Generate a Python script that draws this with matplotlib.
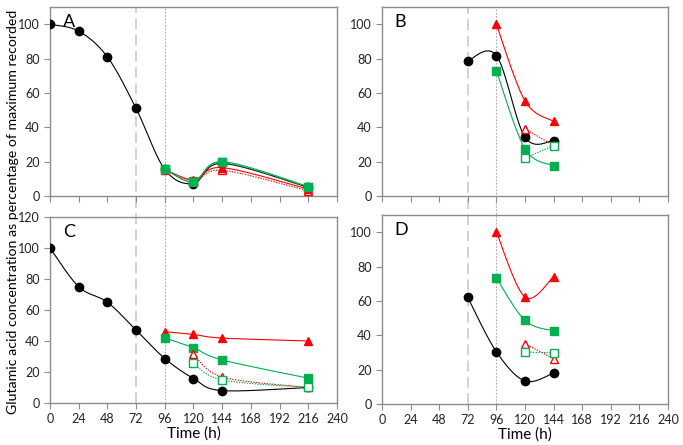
#!/usr/bin/env python3

import numpy as np
import matplotlib.pyplot as plt
from matplotlib.lines import Line2D
from matplotlib.transforms import blended_transform_factory

plt.rcParams["font.family"] = ["Lato", "DejaVu Sans"]

RED = "#FF0000"
GREEN = "#00B050"
SPINE = "#8C8C8C"

# Panel A
A_BLACK_T = [0, 24, 48, 72, 96, 120, 144, 216]
A_BLACK = [100, 96, 81, 51, 15.5, 7.2, 19, 5]
A_T = [96, 120, 144, 216]
A_GREEN = [16, 8, 20, 5.5]
A_GREEN_OPEN = [15.5, 8.5, 19.5, 5]
A_RED = [15.5, 9.5, 16.5, 4]
A_RED_OPEN = [15, 9, 15, 3]

# Panel B
B_BLACK_T = [72, 96, 120, 144]
B_BLACK = [78.7, 81.8, 34.3, 32.2]
B_T = [96, 120, 144]
B_GREEN = [72.9, 27.5, 17.6]
B_RED = [100, 55.4, 43.4]
B_OPEN_T = [120, 144]
B_GREEN_OPEN = [22.1, 29.3]
B_RED_OPEN = [39, 29.5]

# Panel C
C_BLACK_T = [0, 24, 48, 72, 96, 120, 144, 216]
C_BLACK = [100, 75, 65, 47, 28.7, 15.8, 8, 10]
C_T = [96, 120, 144, 216]
C_GREEN = [42, 35.6, 27.8, 16]
C_RED = [46, 44.2, 41.9, 40]
C_OPEN_T = [120, 144, 216]
C_GREEN_OPEN = [25.7, 14.9, 10]
C_RED_OPEN = [31.7, 16.8, 10]

# Panel D
D_BLACK_T = [72, 96, 120, 144]
D_BLACK = [62, 30.4, 13.4, 18]
D_T = [96, 120, 144]
D_GREEN = [73.3, 48.6, 42.6]
D_RED = [100, 62.2, 74]
D_OPEN_T = [120, 144]
D_GREEN_OPEN = [30.2, 29.8]
D_RED_OPEN = [35.1, 26.4]

X_TICKS = np.arange(0, 241, 24)


def smooth(x, y, n=30):
    # Excel-like smoothed line: cubic Bezier with Catmull-Rom control points
    p = np.column_stack([x, y]).astype(float)
    if len(p) < 3:
        return p[:, 0], p[:, 1]
    pts = []
    for i in range(len(p) - 1):
        p0 = p[i - 1] if i > 0 else p[i]
        p3 = p[i + 2] if i + 2 < len(p) else p[i + 1]
        c1 = p[i] + (p[i + 1] - p0) / 6
        c2 = p[i + 1] - (p3 - p[i]) / 6
        t = np.linspace(0, 1, n)[:, None]
        seg = ((1 - t) ** 3 * p[i] + 3 * (1 - t) ** 2 * t * c1
               + 3 * (1 - t) * t ** 2 * c2 + t ** 3 * p[i + 1])
        pts.append(seg if i == 0 else seg[1:])
    pts = np.vstack(pts)
    return pts[:, 0], pts[:, 1]


def series(ax, x, y, color, marker, filled=True, ms=6):
    sx, sy = smooth(x, y)
    ls = "-" if filled else (0, (1.2, 1.2))
    ax.plot(sx, sy, color=color, linewidth=0.8, linestyle=ls, zorder=3)
    ax.plot(x, y, linestyle="none", marker=marker, markersize=ms,
            markerfacecolor=color if filled else "white",
            markeredgecolor=color, markeredgewidth=1.0, zorder=4)


def style(ax, ymax, yticks, letter, show_x):
    ax.set_facecolor("none")
    ax.set_xlim(0, 240)
    ax.set_ylim(0, ymax)
    ax.set_xticks(X_TICKS)
    ax.set_yticks(yticks)
    for s in ax.spines.values():
        s.set_color(SPINE)
        s.set_linewidth(1.0)
    ax.tick_params(direction="out", length=4, color=SPINE,
                   labelsize=9, labelcolor="#222222")
    if show_x:
        ax.set_xlabel("Time (h)", fontsize=11, labelpad=1)
    else:
        ax.tick_params(axis="x", labelbottom=False)
    ax.text(0.045, 0.92, letter, transform=ax.transAxes, fontsize=13,
            va="center", ha="left")


def main():
    fig = plt.figure(figsize=(6.83, 4.45), dpi=100)
    ax_a = fig.add_axes([0.0732, 0.5596, 0.4202, 0.4244])
    ax_b = fig.add_axes([0.5593, 0.5596, 0.4187, 0.4244])
    ax_c = fig.add_axes([0.0732, 0.0944, 0.4202, 0.4180])
    ax_d = fig.add_axes([0.5593, 0.0921, 0.4187, 0.4249])

    style(ax_a, 110, range(0, 101, 20), "A", False)
    style(ax_b, 110, range(0, 101, 20), "B", False)
    style(ax_c, 120, range(0, 121, 20), "C", True)
    style(ax_d, 110, range(0, 101, 20), "D", True)

    # vertical marker lines running through both rows, behind the data
    for top, bottom in [(ax_a, ax_c), (ax_b, ax_d)]:
        y0 = bottom.get_position().y0
        y1 = top.get_position().y1
        tr = blended_transform_factory(top.transData, fig.transFigure)
        fig.add_artist(Line2D([72, 72], [y0, y1], transform=tr,
                              color="#CFCFCF", linewidth=1.3,
                              linestyle=(0, (6, 3)), zorder=-1))
        fig.add_artist(Line2D([96, 96], [y0, y1], transform=tr,
                              color="#AAAAAA", linewidth=0.8,
                              linestyle=(0, (1.5, 1.5)), zorder=-1))

    series(ax_a, A_BLACK_T, A_BLACK, "black", "o")
    series(ax_a, A_T, A_RED_OPEN, RED, "^", filled=False)
    series(ax_a, A_T, A_GREEN_OPEN, GREEN, "s", filled=False, ms=5.5)
    series(ax_a, A_T, A_RED, RED, "^")
    series(ax_a, A_T, A_GREEN, GREEN, "s", ms=5.5)

    series(ax_b, B_BLACK_T, B_BLACK, "black", "o")
    series(ax_b, B_T, B_RED, RED, "^")
    series(ax_b, B_T, B_GREEN, GREEN, "s", ms=5.5)
    series(ax_b, B_OPEN_T, B_RED_OPEN, RED, "^", filled=False)
    series(ax_b, B_OPEN_T, B_GREEN_OPEN, GREEN, "s", filled=False, ms=5.5)

    series(ax_c, C_BLACK_T, C_BLACK, "black", "o")
    series(ax_c, C_T, C_RED, RED, "^")
    series(ax_c, C_T, C_GREEN, GREEN, "s", ms=5.5)
    series(ax_c, C_OPEN_T, C_RED_OPEN, RED, "^", filled=False)
    series(ax_c, C_OPEN_T, C_GREEN_OPEN, GREEN, "s", filled=False, ms=5.5)

    series(ax_d, D_BLACK_T, D_BLACK, "black", "o")
    series(ax_d, D_T, D_RED, RED, "^")
    series(ax_d, D_T, D_GREEN, GREEN, "s", ms=5.5)
    series(ax_d, D_OPEN_T, D_RED_OPEN, RED, "^", filled=False)
    series(ax_d, D_OPEN_T, D_GREEN_OPEN, GREEN, "s", filled=False, ms=5.5)

    fig.text(0.019, 0.523,
             "Glutamic acid concentration as percentage of maximum recorded",
             rotation=90, va="center", ha="center", fontsize=10.2)

    fig.savefig("out.png", dpi=100)
    plt.close(fig)


if __name__ == "__main__":
    main()
